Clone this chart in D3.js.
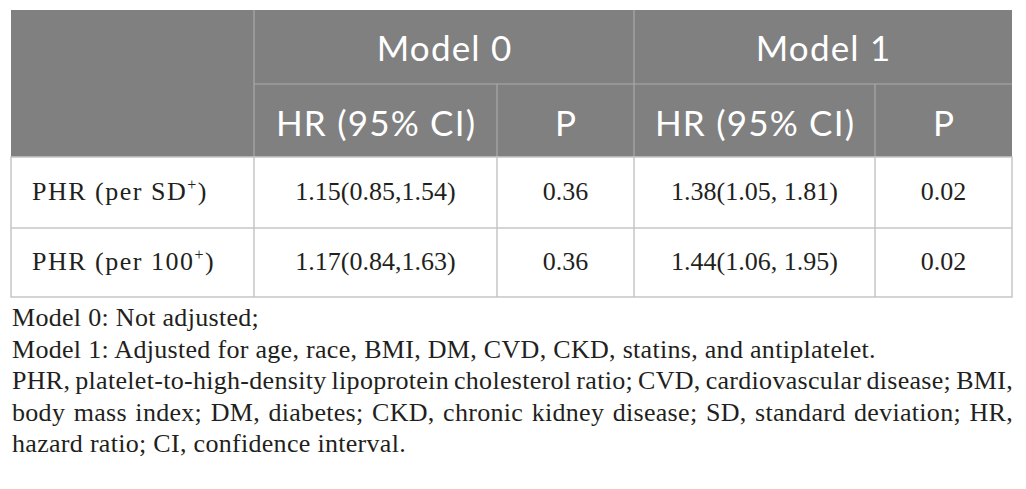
<!DOCTYPE html>
<html lang="en">
  <head>
    <meta charset="utf-8" />
    <title>PHR hazard ratios</title>
    <script type="text/javascript" src="https://d3js.org/d3.v7.min.js" charset="utf-8"></script>
    <style type="text/css">
      body { margin: 0; background: #fff; }
      .head text { font-family: Lato, "Open Sans", sans-serif; fill: #fff; font-size: 35px; letter-spacing: 1.2px; }
      .cell text { font-family: "Liberation Serif", "DejaVu Serif", serif; fill: #231f20; font-size: 26px; }
      .cell text.label { letter-spacing: 1.5px; }
      .note text { font-family: "Liberation Serif", "DejaVu Serif", serif; fill: #231f20; font-size: 26px; letter-spacing: 0.3px; }
    </style>
  </head>
  <body>
    <script type="text/javascript">
      // table contents
      var groups = ["Model 0", "Model 1"];
      var subHeaders = ["HR (95% CI)", "P", "HR (95% CI)", "P"];
      var rowLabels = [
        { pre: "PHR (per SD", sup: "+", post: ")" },
        { pre: "PHR (per 100", sup: "+", post: ")" }
      ];
      var hrModel0 = ["1.15(0.85,1.54)", "1.17(0.84,1.63)"];
      var pModel0 = ["0.36", "0.36"];
      var hrModel1 = ["1.38(1.05, 1.81)", "1.44(1.06, 1.95)"];
      var pModel1 = ["0.02", "0.02"];

      // footnote, broken as in the source; true = justified line
      var noteLines = [
        "Model 0: Not adjusted;",
        "Model 1: Adjusted for age, race, BMI, DM, CVD, CKD, statins, and antiplatelet.",
        "PHR, platelet-to-high-density lipoprotein cholesterol ratio; CVD, cardiovascular disease; BMI,",
        "body mass index; DM, diabetes; CKD, chronic kidney disease; SD, standard deviation; HR,",
        "hazard ratio; CI, confidence interval."
      ];
      var noteJustify = [false, false, true, true, false];

      var W = 1026, H = 489;
      var headFill = "#808080", headLine = "#a9a9a9", bodyLine = "#c6c6c6";

      // column and row edges of the grid
      var colEdges = [11, 254, 497, 634, 875, 1012];
      var rowEdges = [10, 84, 157, 228, 297];

      var svg = d3.select("body").append("svg")
        .attr("width", W).attr("height", H);

      var col = (i) => [colEdges[i], colEdges[i + 1]];
      var mid = (a) => (a[0] + a[1]) / 2;

      // header background
      var head = svg.append("g").attr("class", "head");
      head.append("rect")
        .attr("x", colEdges[0]).attr("y", rowEdges[0])
        .attr("width", colEdges[5] - colEdges[0])
        .attr("height", rowEdges[2] - rowEdges[0])
        .attr("fill", headFill);

      // header grid lines
      var hl = head.append("g").attr("stroke", headLine).attr("stroke-width", 1.2);
      hl.append("line").attr("x1", colEdges[1]).attr("x2", colEdges[5])
        .attr("y1", rowEdges[1]).attr("y2", rowEdges[1]);
      [1, 3].forEach(function (i) {
        hl.append("line").attr("x1", colEdges[i]).attr("x2", colEdges[i])
          .attr("y1", rowEdges[0]).attr("y2", rowEdges[2]);
      });
      [2, 4].forEach(function (i) {
        hl.append("line").attr("x1", colEdges[i]).attr("x2", colEdges[i])
          .attr("y1", rowEdges[1]).attr("y2", rowEdges[2]);
      });

      // letter-spacing leaves a trailing gap, nudge centred text back
      var ls = 0.6;

      head.selectAll("text.group")
        .data(groups)
        .join("text")
        .attr("class", "group")
        .attr("x", (d, i) => (colEdges[1 + i * 2] + colEdges[3 + i * 2]) / 2 + ls)
        .attr("y", 61)
        .attr("text-anchor", "middle")
        .text((d) => d);

      head.selectAll("text.sub")
        .data(subHeaders)
        .join("text")
        .attr("class", "sub")
        .attr("x", (d, i) => mid(col(i + 1)) + ls)
        .attr("y", 136)
        .attr("text-anchor", "middle")
        .text((d) => d);

      // body
      var body = svg.append("g").attr("class", "cell");
      var bl = body.append("g").attr("stroke", bodyLine).attr("stroke-width", 1.5).attr("fill", "none");
      bl.append("rect")
        .attr("x", colEdges[0]).attr("y", rowEdges[2])
        .attr("width", colEdges[5] - colEdges[0])
        .attr("height", rowEdges[4] - rowEdges[2]);
      bl.append("line").attr("x1", colEdges[0]).attr("x2", colEdges[5])
        .attr("y1", rowEdges[3]).attr("y2", rowEdges[3]);
      [1, 2, 3, 4].forEach(function (i) {
        bl.append("line").attr("x1", colEdges[i]).attr("x2", colEdges[i])
          .attr("y1", rowEdges[2]).attr("y2", rowEdges[4]);
      });

      var baseY = (r) => (rowEdges[r + 2] + rowEdges[r + 3]) / 2 + 7.5;

      var lab = body.selectAll("text.label")
        .data(rowLabels)
        .join("text")
        .attr("class", "label")
        .attr("x", colEdges[0] + 21)
        .attr("y", (d, i) => baseY(i));
      lab.append("tspan").text((d) => d.pre);
      lab.append("tspan").attr("dy", -10).attr("font-size", "16px").text((d) => d.sup);
      lab.append("tspan").attr("dy", 10).text((d) => d.post);

      [hrModel0, pModel0, hrModel1, pModel1].forEach(function (vals, c) {
        body.selectAll("text.c" + c)
          .data(vals)
          .join("text")
          .attr("class", "c" + c)
          .attr("x", mid(col(c + 1)))
          .attr("y", (d, i) => baseY(i))
          .attr("text-anchor", "middle")
          .text((d) => d);
      });

      // footnote
      var note = svg.append("g").attr("class", "note");
      var left = 12, right = 1013;
      noteLines.forEach(function (line, k) {
        var y = 326 + k * 31.6;
        if (!noteJustify[k]) {
          note.append("text").attr("x", left).attr("y", y).text(line);
          return;
        }
        var words = line.split(" ");
        var ws = words.map(function (w) {
          var t = note.append("text").text(w);
          var len = t.node().getComputedTextLength();
          t.remove();
          return len;
        });
        var gap = (right - left - d3.sum(ws)) / (words.length - 1);
        var x = left;
        words.forEach(function (w, j) {
          note.append("text").attr("x", x).attr("y", y).text(w);
          x += ws[j] + gap;
        });
      });
    </script>
  </body>
</html>
